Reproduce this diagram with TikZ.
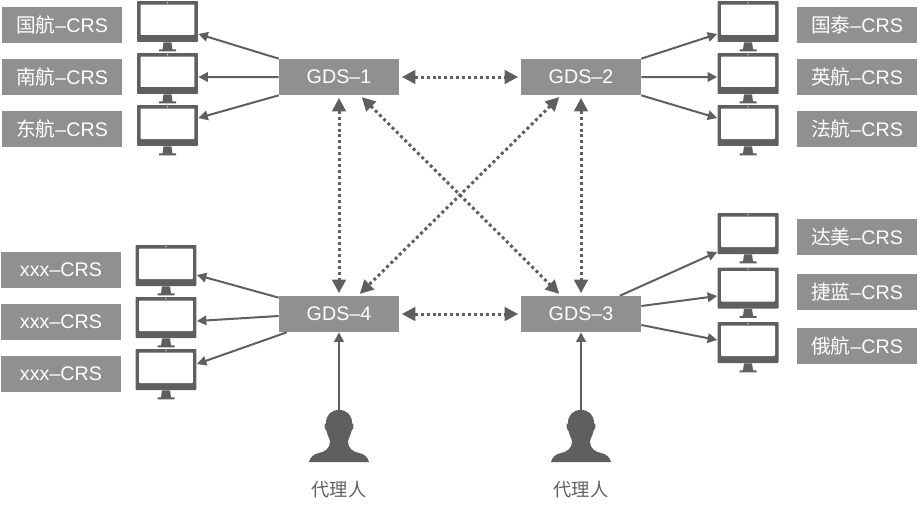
\documentclass[tikz,border=0pt]{standalone}
\usepackage{fontspec}
\setmainfont{Liberation Sans}
\newfontfamily\cjk{Noto Sans CJK SC}
\usetikzlibrary{arrows.meta,calc}
\definecolor{boxgray}{HTML}{909090}
\definecolor{inkgray}{HTML}{5F5F5F}
\tikzset{
    gds/.style={rectangle,fill=boxgray,text=white,minimum width=2.4cm,minimum height=0.72cm,inner sep=0pt,font=\fontsize{11.2pt}{12pt}\selectfont},
    crs/.style={gds},
    monitor/.style={rectangle,fill=inkgray,rounded corners=0.5pt,minimum width=1.22cm,minimum height=0.82cm,inner sep=0pt,
        path picture={
            \fill[white] ($(path picture bounding box.north west)+(0.07cm,-0.07cm)$) rectangle ($(path picture bounding box.south east)+(-0.07cm,0.14cm)$);
            \fill[white] ($(path picture bounding box.north)+(0,-0.035cm)$) circle (0.012cm);
        }},
    feed/.style={draw=inkgray,line width=0.04cm,-{Triangle[length=0.19cm,width=0.19cm]}},
    link/.style={draw=inkgray,line width=0.06cm,dash pattern=on 1.7pt off 1.7pt,{Triangle[length=0.27cm,width=0.27cm]}-{Triangle[length=0.27cm,width=0.27cm]},shorten <=0.05cm,shorten >=0.05cm},
    agentname/.style={text=inkgray,inner sep=0pt,font=\fontsize{10.4pt}{12pt}\selectfont\cjk},
    pics/stand/.style={code={
        \fill[inkgray] (-4,0) -- (4,0) -- (5,7) -- (8.5,7) -- (8.5,9) -- (-8.5,9) -- (-8.5,7) -- (-5,7) -- cycle;
    }},
    pics/agent/.style={code={
        \fill[inkgray] (0,0) .. controls (8,0) and (13,5) .. (13,13) -- (14.5,15)
            .. controls (14.5,19) and (13,20) .. (12.5,21) .. controls (11.5,26) and (9,29) .. (9,32)
            .. controls (9,38) and (14,42) .. (20,43) .. controls (26,44) and (29,48) .. (30,52)
            -- (-30,52) .. controls (-29,48) and (-26,44) .. (-20,43) .. controls (-14,42) and (-9,38) .. (-9,32)
            .. controls (-9,29) and (-11.5,26) .. (-12.5,21) .. controls (-13,20) and (-14.5,19) .. (-14.5,15)
            -- (-13,13) .. controls (-13,5) and (-8,0) .. (0,0) -- cycle;
    }},
}
\begin{document}
\begin{tikzpicture}[x=0.02cm,y=-0.02cm]
    \useasboundingbox (0,0) rectangle (918,507);
    %% GDS nodes
    \node[gds] (gds1) at (339,77) {GDS–1};
    \node[gds] (gds2) at (581,77) {GDS–2};
    \node[gds] (gds3) at (581,314) {GDS–3};
    \node[gds] (gds4) at (339,314) {GDS–4};
    %% CRS labels
    \foreach \crsname/\x/\y/\carrier/\tail in {
        crsa/62/25/国航/CRS,crsb/62/77/南航/CRS,crsc/62/129/东航/CRS,
        crsd/857/25/国泰/CRS,crse/857/77/英航/CRS,crsf/857/129/法航/CRS,
        crsg/857/237/达美/CRS,crsh/857/292/捷蓝/CRS,crsi/857/346/俄航/CRS}
        \node[crs] (\crsname) at (\x,\y) {{\cjk\carrier}–\tail};
    \foreach \crsname/\y in {crsj/270,crsk/322,crsl/374}
        \node[crs] (\crsname) at (61,\y) {xxx–CRS};
    %% monitors
    \foreach \mon/\x/\y in {
        mona/167.5/21.5,monb/167.5/73.5,monc/167.5/125.5,
        mond/748/21.5,mone/748/73.5,monf/748/125.5,
        mong/748/233.5,monh/748/288,moni/748/342.5,
        monj/166/265.5,monk/166/317.5,monl/166/369.5}{
        \node[monitor] (\mon) at (\x,\y) {};
        \pic at (\mon.south) {stand};
    }
    %% GDS to monitors
    \draw[feed] (gds1.north west) -- ([yshift=-0.25cm]mona.east);
    \draw[feed] (gds1.west) -- ([yshift=-0.07cm]monb.east);
    \draw[feed] (gds1.south west) -- ([yshift=0.15cm]monc.east);
    \draw[feed] (gds2.north east) -- ([yshift=-0.25cm]mond.west);
    \draw[feed] (gds2.east) -- ([yshift=-0.07cm]mone.west);
    \draw[feed] (gds2.south east) -- ([yshift=0.15cm]monf.west);
    \draw[feed] ([xshift=0.78cm]gds3.north) -- ([yshift=-0.37cm]mong.west);
    \draw[feed] ([yshift=0.16cm]gds3.east) -- ([yshift=-0.16cm]monh.west);
    \draw[feed] ([yshift=-0.22cm]gds3.east) -- ([yshift=0.05cm]moni.west);
    \draw[feed] ([yshift=-0.04cm]gds4.north west) -- ([yshift=-0.19cm]monj.east);
    \draw[feed] ([yshift=-0.04cm]gds4.west) -- ([yshift=-0.07cm]monk.east);
    \draw[feed] ([xshift=0.16cm]gds4.south west) -- ([yshift=0.11cm]monl.east);
    %% links between GDS nodes
    \draw[link] (gds1) -- (gds2);
    \draw[link] (gds4) -- (gds3);
    \draw[link] (gds1) -- (gds4);
    \draw[link] (gds2) -- (gds3);
    \draw[link] ([xshift=0.42cm]gds1.south) -- ([xshift=-0.4cm]gds3.north);
    \draw[link] ([xshift=-0.4cm]gds2.south) -- ([xshift=0.38cm]gds4.north);
    %% agents
    \pic at (339,410) {agent};
    \pic at (581,410) {agent};
    \coordinate (agenta) at (339,410);
    \coordinate (agentb) at (581,410);
    \node[agentname] (namea) at (339,490) {代理人};
    \node[agentname] (nameb) at (581,490) {代理人};
    \draw[feed] (agenta) -- (gds4.south);
    \draw[feed] (agentb) -- (gds3.south);
\end{tikzpicture}
\end{document}
